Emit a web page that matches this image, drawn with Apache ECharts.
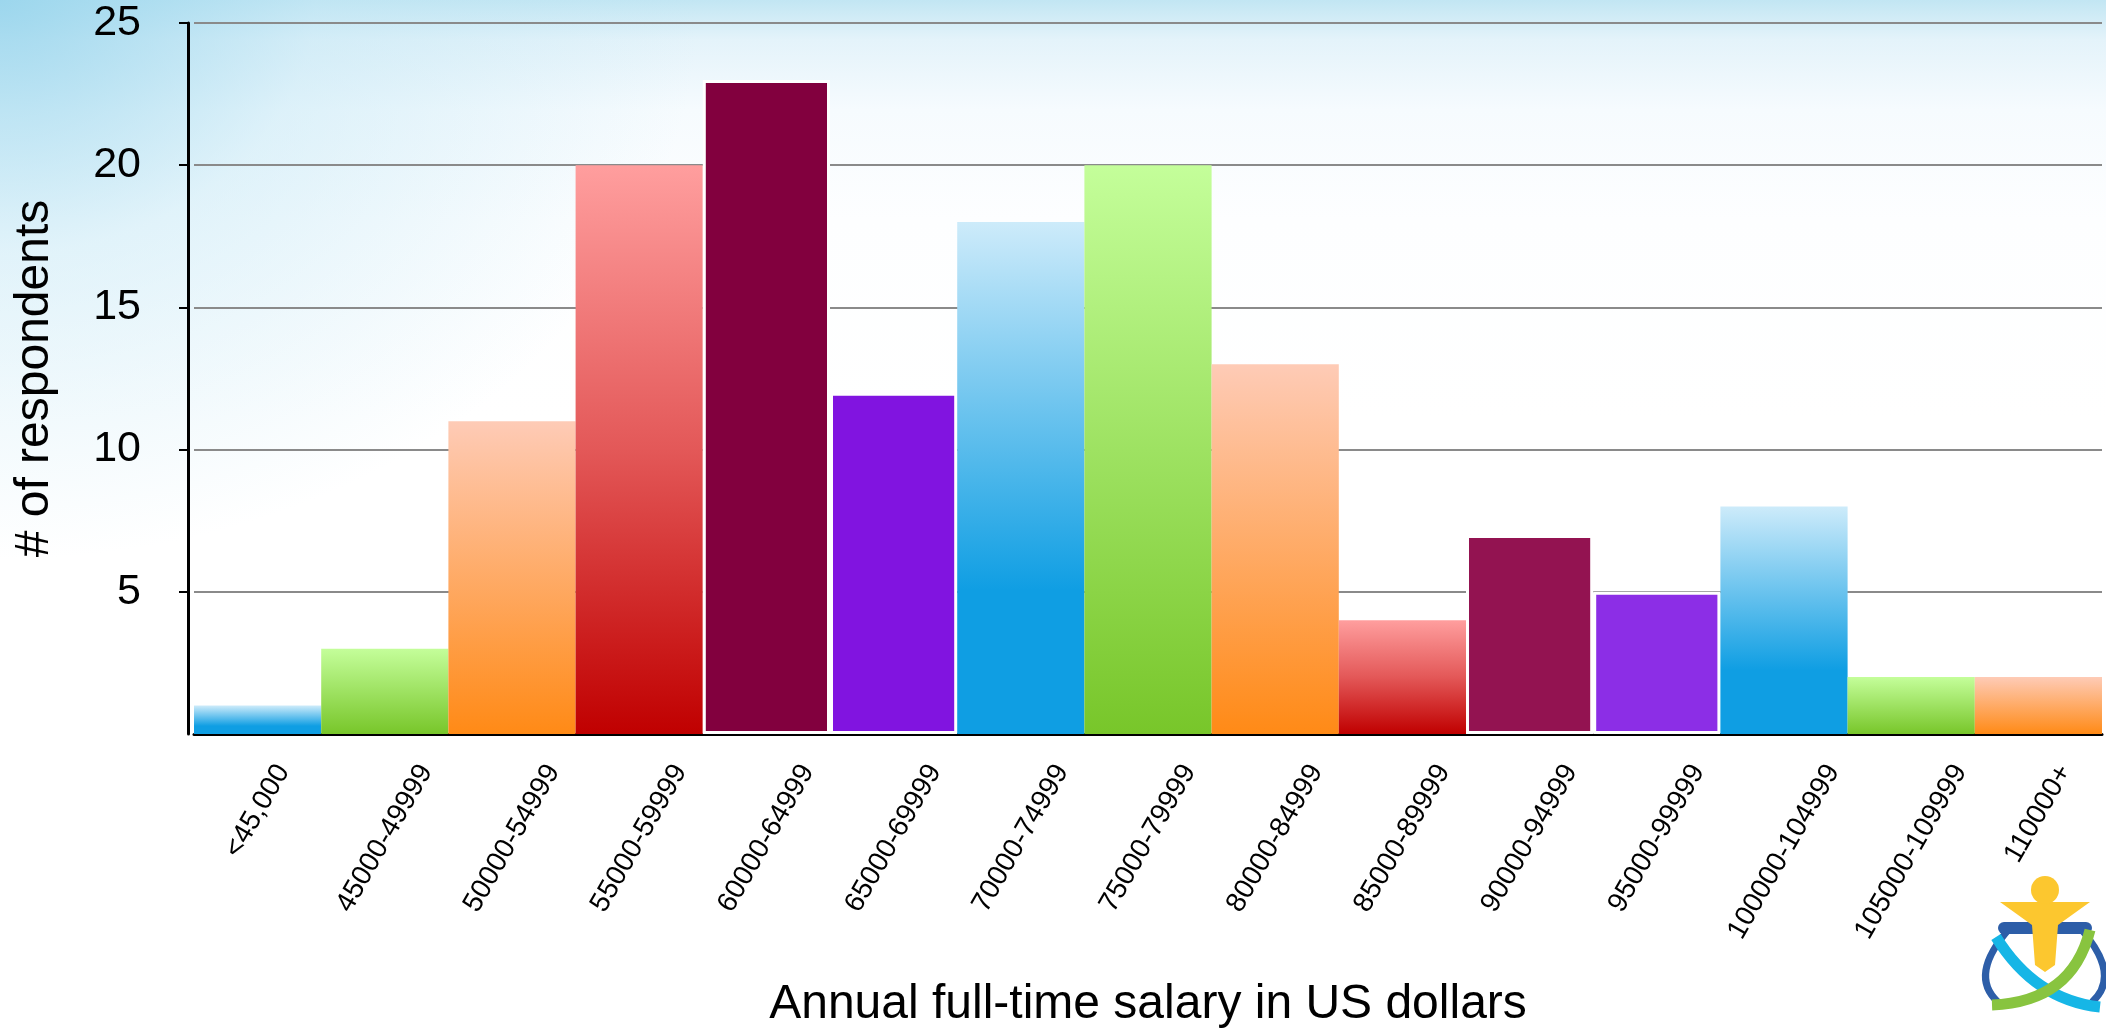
<!DOCTYPE html>
<html>
<head>
<meta charset="utf-8">
<title>Annual full-time salary</title>
<script src="https://cdn.jsdelivr.net/npm/echarts@6.0.0/dist/echarts.min.js"></script>
<style>
  html, body { margin: 0; padding: 0; }
  body {
    width: 2106px;
    height: 1030px;
    overflow: hidden;
    background:
      radial-gradient(ellipse 700px 560px at 0 0, rgba(150, 212, 236, 0.85), rgba(190, 229, 244, 0.45) 45%, rgba(255, 255, 255, 0) 100%),
      linear-gradient(to bottom, #c2e6f3 0px, #e4f3fa 40px, #f6fbfe 110px, #fdfeff 220px, #ffffff 420px);
  }
  #salary-chart { width: 2106px; height: 1030px; }
</style>
</head>
<body>
<div id="salary-chart"></div>
<script>
// salary bands (x axis) and number of respondents per band
const salaryBands = [
  '<45,000', '45000-49999', '50000-54999', '55000-59999', '60000-64999',
  '65000-69999', '70000-74999', '75000-79999', '80000-84999', '85000-89999',
  '90000-94999', '95000-99999', '100000-104999', '105000-109999', '110000+'
]
const respondents = [1, 3, 11, 20, 23, 12, 18, 20, 13, 4, 7, 5, 8, 2, 2]
const yAxisMax = 25
const yAxisStep = 5

const fontFamily = '"Liberation Sans", Arial, Helvetica, sans-serif'

//bar fills, the palette repeats every 6 bars like in the original deck
const gradient = (stops) => new echarts.graphic.LinearGradient(0, 0, 0, 1,
  stops.map(([offset, color]) => ({ offset, color })))
const blueFill = { color: gradient([[0, '#cdebfa'], [0.72, '#0f9ee3'], [1, '#0f9ee3']]) }
const greenFill = { color: gradient([[0, '#c4fe9a'], [1, '#78c62a']]) }
const orangeFill = { color: gradient([[0, '#fecbb6'], [1, '#ff8a16']]) }
const redFill = { color: gradient([[0, '#ff9e9e'], [0.5, '#e35858'], [1, '#c00000']]) }
const framed = (color) => ({ color, borderColor: '#ffffff', borderWidth: 3 })
const barStyles = [
  blueFill, greenFill, orangeFill, redFill, framed('#82003e'), framed('#8114e0'),
  blueFill, greenFill, orangeFill, redFill, framed('#931351'), framed('#8c2ee6'),
  blueFill, greenFill, orangeFill
]

//rotated x labels: the original centres each label's box under its bar,
//so every label gets its own padding depending on its text width
const labelAngle = 60
const labelFontSize = 28
const rad = labelAngle * Math.PI / 180
const measureCtx = document.createElement('canvas').getContext('2d')
measureCtx.font = labelFontSize + 'px ' + fontFamily
const labelRich = {}
salaryBands.forEach((band, i) => {
  const w = measureCtx.measureText(band).width
  const half = (w * Math.sin(rad) + labelFontSize * Math.cos(rad)) / 2
  labelRich['b' + i] = {
    fontFamily,
    fontSize: labelFontSize,
    color: '#000',
    padding: [2 * half * Math.cos(rad), 2 * half * Math.sin(rad), 0, 0]
  }
})

const chart = echarts.init(document.getElementById('salary-chart'))

chart.setOption({
  animation: false,
  backgroundColor: 'transparent',
  textStyle: { fontFamily },
  grid: {
    left: 194,
    right: 4,
    top: 23,
    bottom: 296,
    containLabel: false,
    outerBoundsMode: 'none'
  },
  xAxis: {
    type: 'category',
    data: salaryBands,
    axisLine: { lineStyle: { color: '#000', width: 3 } },
    axisTick: { show: false },
    axisLabel: {
      interval: 0,
      rotate: labelAngle,
      align: 'center',
      verticalAlign: 'middle',
      margin: 26,
      formatter: (value, index) => '{b' + index + '|' + value + '}',
      rich: labelRich
    },
    name: 'Annual full-time salary in US dollars',
    nameLocation: 'middle',
    nameGap: 247,
    nameTextStyle: { fontSize: 48, color: '#000', fontFamily }
  },
  yAxis: {
    type: 'value',
    min: 0,
    max: yAxisMax,
    interval: yAxisStep,
    offset: 6,
    axisLine: { show: true, lineStyle: { color: '#000', width: 3 } },
    axisTick: { show: true, length: 9, lineStyle: { color: '#000', width: 2 } },
    axisLabel: {
      showMinLabel: false,
      fontSize: 43,
      color: '#000',
      margin: 47,
      fontFamily
    },
    splitLine: { show: true, lineStyle: { color: '#8a8a8a', width: 2 } },
    name: '# of respondents',
    nameLocation: 'middle',
    nameGap: 129,
    nameTextStyle: { fontSize: 48, color: '#000', fontFamily }
  },
  series: [
    {
      name: '# of respondents',
      type: 'bar',
      barCategoryGap: '0%',
      data: respondents.map((value, i) => ({ value, itemStyle: barStyles[i] }))
    }
  ],
  //small logo in the bottom right corner
  graphic: [
    {
      type: 'group',
      silent: true,
      children: [
        { type: 'bezierCurve', shape: { x1: 2010, y1: 928, cpx1: 1968, cpy1: 975, x2: 1998, y2: 1002 }, style: { stroke: '#2d5ea8', lineWidth: 7, fill: null } },
        { type: 'bezierCurve', shape: { x1: 2080, y1: 928, cpx1: 2122, cpy1: 975, x2: 2092, y2: 1002 }, style: { stroke: '#2d5ea8', lineWidth: 7, fill: null } },
        { type: 'rect', shape: { x: 1998, y: 922, width: 94, height: 12, r: 6 }, style: { fill: '#2d5ea8' } },
        { type: 'bezierCurve', shape: { x1: 1996, y1: 937, cpx1: 2035, cpy1: 1000, x2: 2100, y2: 1007 }, style: { stroke: '#16b6e6', lineWidth: 11, fill: null } },
        { type: 'bezierCurve', shape: { x1: 1992, y1: 1005, cpx1: 2072, cpy1: 1002, x2: 2090, y2: 930 }, style: { stroke: '#88c43f', lineWidth: 11, fill: null } },
        { type: 'polygon', shape: { points: [[2000, 902], [2090, 902], [2058, 925], [2055, 965], [2045, 972], [2035, 965], [2032, 925]] }, style: { fill: '#fcc72f' } },
        { type: 'circle', shape: { cx: 2045, cy: 890, r: 14 }, style: { fill: '#fcc72f' } }
      ]
    }
  ]
})

window.addEventListener('resize', () => chart.resize())
</script>
</body>
</html>
